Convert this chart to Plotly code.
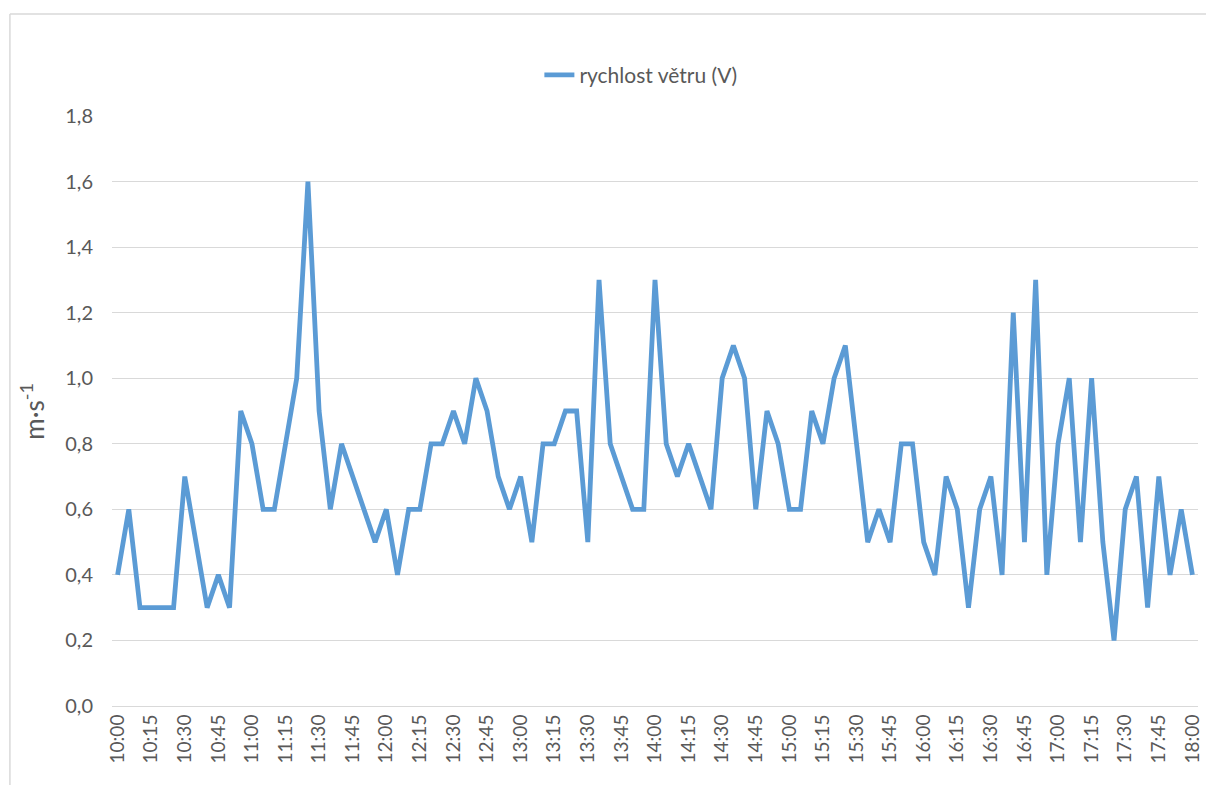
import plotly.graph_objects as go

times = [f"{h}:{m:02d}" for h in range(10, 18) for m in range(0, 60, 5)] + ["18:00"]

wind_speed = [
    0.4, 0.6, 0.3, 0.3, 0.3, 0.3, 0.7, 0.5, 0.3, 0.4, 0.3, 0.9,
    0.8, 0.6, 0.6, 0.8, 1.0, 1.6, 0.9, 0.6, 0.8, 0.7, 0.6, 0.5,
    0.6, 0.4, 0.6, 0.6, 0.8, 0.8, 0.9, 0.8, 1.0, 0.9, 0.7, 0.6,
    0.7, 0.5, 0.8, 0.8, 0.9, 0.9, 0.5, 1.3, 0.8, 0.7, 0.6, 0.6,
    1.3, 0.8, 0.7, 0.8, 0.7, 0.6, 1.0, 1.1, 1.0, 0.6, 0.9, 0.8,
    0.6, 0.6, 0.9, 0.8, 1.0, 1.1, 0.8, 0.5, 0.6, 0.5, 0.8, 0.8,
    0.5, 0.4, 0.7, 0.6, 0.3, 0.6, 0.7, 0.4, 1.2, 0.5, 1.3, 0.4,
    0.8, 1.0, 0.5, 1.0, 0.5, 0.2, 0.6, 0.7, 0.3, 0.7, 0.4, 0.6,
    0.4,
]

tick_labels = times[::3]
y_ticks = [0.0, 0.2, 0.4, 0.6, 0.8, 1.0, 1.2, 1.4, 1.6, 1.8]

FONT = "Lato"
GREY = "#595959"

fig = go.Figure()
fig.add_trace(go.Scatter(
    x=times, y=wind_speed, mode="lines", name="rychlost větru (V)",
    line=dict(color="#5B9BD5", width=4.8),
))

fig.update_layout(
    width=1206, height=785,
    margin=dict(l=112, r=3, t=116, b=79),
    paper_bgcolor="white", plot_bgcolor="white",
    separators=", ",
    font=dict(family=FONT, size=19, color=GREY),
    showlegend=True,
    legend=dict(orientation="h", x=0.487, xanchor="center", y=1.069, yanchor="middle",
                font=dict(family=FONT, size=21, color=GREY)),
    xaxis=dict(
        type="category", range=[-0.5, len(times) - 0.5],
        tickmode="array", tickvals=tick_labels, ticktext=tick_labels,
        tickangle=-90, showgrid=False, showline=True, linecolor="#d9d9d9",
        ticks="", tickfont=dict(family=FONT, size=19, color=GREY),
    ),
    yaxis=dict(
        range=[0, 1.8], tickvals=y_ticks, tickformat=".1f",
        showgrid=True, gridcolor="#d9d9d9", gridwidth=1,
        zeroline=False, showline=False, ticks="",
        ticklabelstandoff=18,
        tickfont=dict(family=FONT, size=20, color=GREY),
    ),
    annotations=[dict(
        text="m·s<sup>-1</sup>", xref="paper", yref="paper",
        x=-0.074, y=0.5, textangle=-90, showarrow=False,
        font=dict(family=FONT, size=26, color=GREY),
        xanchor="center", yanchor="middle",
    )],
    shapes=[
        dict(type="line", xref="paper", yref="paper", x0=-0.094, x1=1.01,
             y0=1.173, y1=1.173, line=dict(color="#d9d9d9", width=1.5)),
        dict(type="line", xref="paper", yref="paper", x0=-0.094, x1=-0.094,
             y0=1.173, y1=-0.2, line=dict(color="#d9d9d9", width=1.5)),
    ],
)

fig.write_html("out.html", config={"displayModeBar": False},
               post_script="document.body.style.margin='0';")
